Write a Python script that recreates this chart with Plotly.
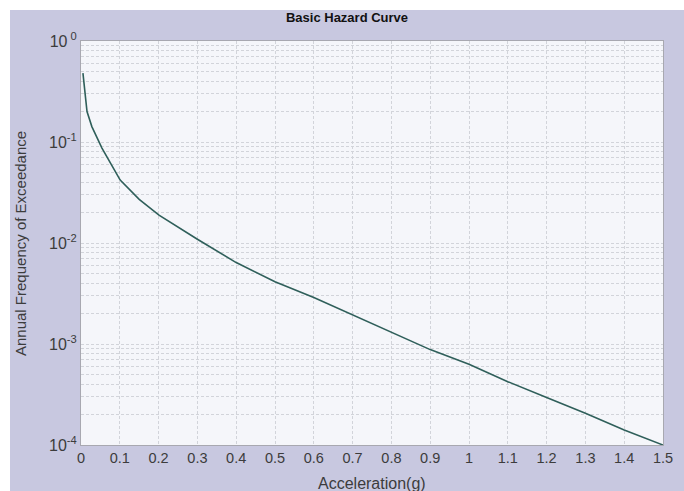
import plotly.graph_objects as go

# Data
accel_g = [0.005, 0.0155, 0.028, 0.054, 0.101, 0.15, 0.201, 0.30, 0.40, 0.50,
           0.60, 0.70, 0.80, 0.90, 1.0, 1.1, 1.2, 1.3, 1.4, 1.5]
annual_freq = [0.48, 0.20, 0.142, 0.087, 0.042, 0.027, 0.0189, 0.0109, 0.0064, 0.00414,
               0.00288, 0.00194, 0.0013, 0.00088, 0.00063, 0.000424, 0.000295, 0.000206, 0.000141, 0.0001]

y_major = [1e-4, 1e-3, 1e-2, 1e-1, 1]
y_major_text = ["10<sup>-4</sup>", "10<sup>-3</sup>", "10<sup>-2</sup>", "10<sup>-1</sup>", "10<sup> 0</sup>"]
y_minor = [k * 10.0 ** d for d in range(-4, 0) for k in range(2, 10)]

LAV = "#C8C8E0"
GRID = "#D2D4DA"
TXT = "#3C3C3C"
FONT = "Liberation Sans, Arial, sans-serif"
DASH = "3px,2px"

fig = go.Figure()
fig.add_trace(go.Scatter(x=accel_g, y=annual_freq, mode="lines",
                         line=dict(color="#2F5F5A", width=1.6), showlegend=False))

W, H = 684, 491
L, R, T, B = 81, 21, 41, 46
pw, ph = W - L - R, H - T - B

def px_x(p):
    return (p - L) / pw

def px_y(p):
    return (H - B - p) / ph

fig.update_layout(
    width=W, height=H,
    margin=dict(l=L, r=R, t=T, b=B),
    paper_bgcolor=LAV,
    plot_bgcolor="#F5F6FA",
    font=dict(family=FONT, color=TXT),
    title=dict(text="<b>Basic Hazard Curve</b>", x=px_x(347), xref="paper",
               xanchor="center", y=1 - 17 / H, yref="container", yanchor="middle",
               font=dict(size=13, color="#111111", family=FONT)),
    xaxis=dict(range=[0, 1.5], dtick=0.1, tick0=0, showgrid=True, gridcolor=GRID,
               griddash=DASH, gridwidth=1, zeroline=False, showline=True,
               linecolor="#A8A8B0", mirror=True, ticks="", tickfont=dict(size=14.5, color=TXT)),
    yaxis=dict(type="log", range=[-4, 0], tickmode="array", tickvals=y_major,
               ticktext=y_major_text, showgrid=True, gridcolor=GRID, griddash=DASH,
               gridwidth=1, zeroline=False, showline=True, linecolor="#A8A8B0",
               mirror=True, ticks="", tickfont=dict(size=16, color=TXT),
               minor=dict(tickmode="array", tickvals=y_minor, showgrid=True,
                          gridcolor=GRID, griddash=DASH, gridwidth=1, ticks="")),
    shapes=[
        dict(type="rect", xref="paper", yref="paper", x0=px_x(-20), x1=px_x(W + 20),
             y0=px_y(10), y1=px_y(-20), fillcolor="white", line=dict(width=0), layer="above"),
        dict(type="rect", xref="paper", yref="paper", x0=px_x(-20), x1=px_x(10),
             y0=px_y(H + 20), y1=px_y(-20), fillcolor="white", line=dict(width=0), layer="above"),
    ],
    annotations=[
        dict(text="Annual Frequency of Exceedance", textangle=-90, xref="paper", yref="paper",
             x=px_x(20), y=px_y(244), showarrow=False, xanchor="center", yanchor="middle",
             font=dict(size=15, color=TXT)),
        dict(text="Acceleration(g)", xref="paper", yref="paper", x=px_x(372), y=px_y(483),
             showarrow=False, xanchor="center", yanchor="middle", font=dict(size=16, color=TXT)),
    ],
)

fig.write_html("out.html")
